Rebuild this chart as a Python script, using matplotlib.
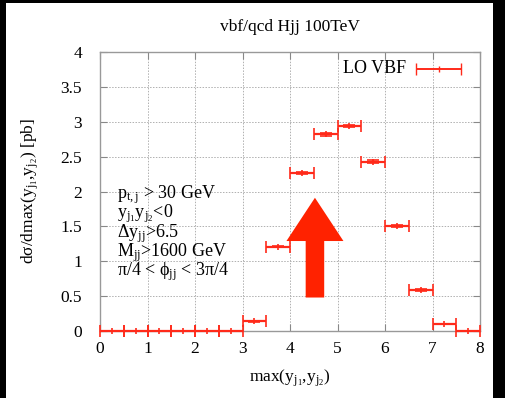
import matplotlib
matplotlib.use("Agg")
import matplotlib.pyplot as plt
from matplotlib.patches import FancyArrow, Rectangle
import numpy as np

plt.rcParams["font.family"] = ["Liberation Serif", "DejaVu Serif"]
plt.rcParams["mathtext.fontset"] = "custom"
plt.rcParams["mathtext.rm"] = "Liberation Serif"
plt.rcParams["mathtext.it"] = "Liberation Serif:italic"

# LO VBF distribution in bins of max(y_j1, y_j2), width 0.5
bin_lo = [0.0, 0.5, 1.0, 1.5, 2.0, 2.5, 3.0, 3.5, 4.0, 4.5, 5.0, 5.5, 6.0, 6.5, 7.0, 7.5]
xsec = [0.0, 0.0, 0.0, 0.0, 0.0, 0.0, 0.14, 1.21, 2.27, 2.82, 2.94, 2.43, 1.51, 0.59, 0.10, 0.0]
xsec_err = [0.0, 0.0, 0.0, 0.0, 0.0, 0.0, 0.005, 0.01, 0.015, 0.02, 0.02, 0.015, 0.015, 0.01, 0.005, 0.0]
bin_width = 0.5

xticks = [0, 1, 2, 3, 4, 5, 6, 7, 8]
yticks = [0, 0.5, 1, 1.5, 2, 2.5, 3, 3.5, 4]
ytick_labels = ["0", "0.5", "1", "1.5", "2", "2.5", "3", "3.5", "4"]

cuts = [r"p$_{\mathrm{t,j}}$ > 30 GeV",
        r"y$_{\mathrm{j}_1}$y$_{\mathrm{j}_2}$<0",
        r"Δy$_{\mathrm{jj}}$>6.5",
        r"M$_{\mathrm{jj}}$>1600 GeV",
        r"π/4 < ϕ$_{\mathrm{jj}}$ < 3π/4"]

red = "#ff2a1a"

fig = plt.figure(figsize=(5.05, 3.98), dpi=100)
fig.patch.set_facecolor("white")
# dark border strips
for (x0, y0, w, h) in [(0, 0, 6 / 505, 1), (493 / 505, 0, 12 / 505, 1), (0, 1 - 3 / 398, 1, 3 / 398)]:
    fig.add_artist(Rectangle((x0, y0), w, h, transform=fig.transFigure,
                             facecolor="black", edgecolor="none", zorder=-5))

ax = fig.add_axes([100 / 505, 1 - 331 / 398, 380 / 505, 279 / 398])
ax.set_xlim(0, 8)
ax.set_ylim(0, 4)

centers = np.array(bin_lo) + bin_width / 2
ax.errorbar(centers, xsec, xerr=bin_width / 2, yerr=xsec_err, fmt="|", color=red,
            ms=5, mew=1.2, elinewidth=1.6, capsize=4, capthick=1.2, clip_on=False, zorder=4)

# legend entry
ax.text(6.45, 3.76, "LO VBF", fontsize=13, ha="right", va="center")
ax.errorbar([7.13], [3.76], xerr=[0.47], fmt="|", color=red, ms=4, mew=1.0,
            elinewidth=1.4, capsize=4, capthick=1.2, zorder=4)

# selection cuts
for i, line in enumerate(cuts):
    ax.text(0.36, 1.90 - i * 0.275, line, fontsize=13, ha="left", va="baseline")

ax.add_patch(FancyArrow(4.525, 0.48, 0, 1.43, width=0.39, head_width=1.2,
                        head_length=0.62, length_includes_head=True,
                        color="#ff2200", ec="none", zorder=5))

ax.set_xticks(xticks)
ax.set_xticklabels([str(v) for v in xticks])
ax.set_yticks(yticks)
ax.set_yticklabels(ytick_labels)
ax.grid(True, color="#b0b0b0", linestyle=(0, (1.5, 1.5)), linewidth=0.7)
ax.tick_params(direction="in", length=5, color="#888888", labelsize=12.5,
               top=True, right=True)
ax.tick_params(axis="y", pad=13)
ax.tick_params(axis="x", pad=7)
for s in ax.spines.values():
    s.set_color("#999999")
    s.set_linewidth(1.0)

ax.set_title("vbf/qcd Hjj 100TeV", fontsize=12.5, pad=15)
ax.set_xlabel(r"max(y$_{\mathrm{j}_1}$,y$_{\mathrm{j}_2}$)", fontsize=12.5, labelpad=8)
ax.set_ylabel(r"dσ/dmax(y$_{\mathrm{j}_1}$,y$_{\mathrm{j}_2}$) [pb]",
              fontsize=12.5, labelpad=14)

fig.savefig("out.png", dpi=100)
